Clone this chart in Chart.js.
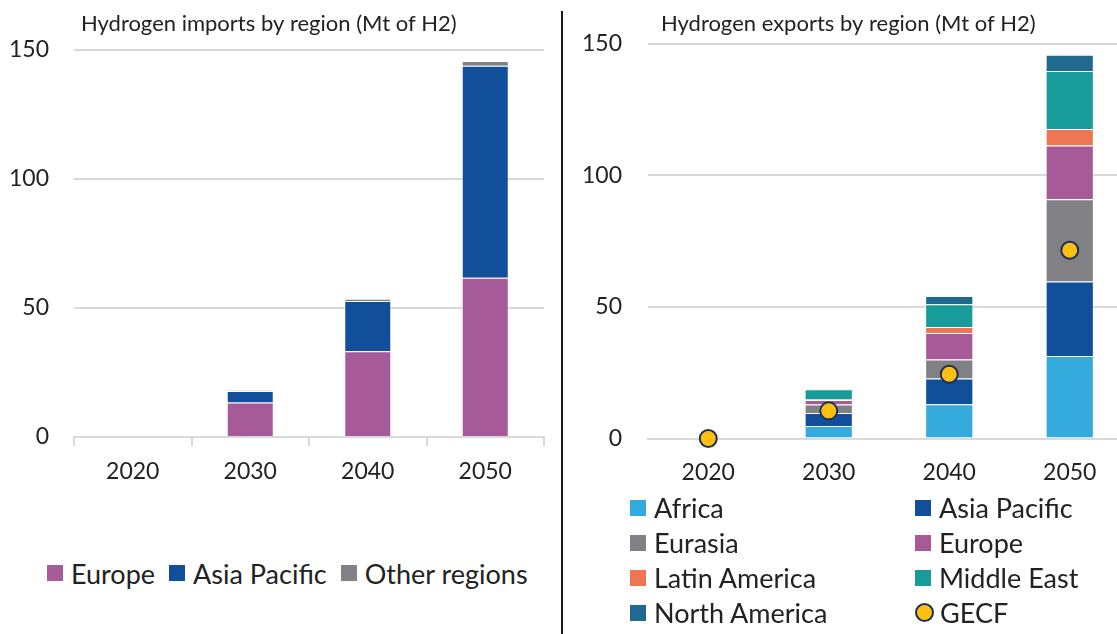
<!DOCTYPE html>
<html>
<head>
<meta charset="utf-8">
<title>Hydrogen trade by region</title>
<script src="https://cdn.jsdelivr.net/npm/chart.js@4.4.1/dist/chart.umd.min.js"></script>
<style>
  html, body { margin: 0; overflow: hidden; }
  body { width: 1117px; height: 634px; position: relative; background: #fff; font-family: Lato, sans-serif; color: #222; }
  .panel { position: absolute; top: 0; height: 500px; }
  #importsPanel { left: 0; width: 555px; }
  #exportsPanel { left: 563px; width: 590px; } /* runs a bit past the window edge on purpose */
  #divider { position: absolute; left: 561px; top: 11px; width: 2px; height: 623px; background: #1a1a1a; }
  .legend { position: absolute; font-size: 27px; line-height: 1; }
  .legend .item { display: flex; align-items: center; white-space: nowrap; }
  .legend .swatch { width: 16px; height: 16px; margin-right: 8px; flex: none; }
  .legend .dot { width: 15px; height: 15px; border-radius: 50%; border: 2px solid #1c2f5c; margin-right: 6px; flex: none; }
  #importsLegend { left: 47px; top: 558px; height: 30px; display: flex; gap: 14px; }
  #exportsLegend { left: 630px; top: 490px; display: grid; grid-template-columns: 285px auto; grid-auto-rows: 35px; }
</style>
</head>
<body>
<div class="panel" id="importsPanel"><canvas id="importsChart"></canvas></div>
<div id="divider"></div>
<div class="panel" id="exportsPanel"><canvas id="exportsChart"></canvas></div>
<div class="legend" id="importsLegend"></div>
<div class="legend" id="exportsLegend"></div>

<script>
const years = ['2020', '2030', '2040', '2050'];
const yTicks = [0, 50, 100, 150];

// imports, Mt of H2
const importEurope = [0, 13.4, 33.2, 61.7];
const importAsiaPacific = [0, 4.4, 19.5, 82.2];
const importOther = [0, 0.3, 0.9, 1.8];

// exports, Mt of H2
const exportAfrica = [0, 4.7, 13.0, 31.3];
const exportAsiaPacific = [0, 5.0, 9.8, 28.3];
const exportEurasia = [0, 3.2, 7.2, 31.3];
const exportEurope = [0, 1.7, 10.1, 20.4];
const exportLatinAmerica = [0, 0.2, 2.2, 6.2];
const exportMiddleEast = [0, 3.9, 8.7, 22.1];
const exportNorthAmerica = [0, 0.2, 3.1, 6.1];
const exportGECF = [0, 10.5, 24.4, 71.5];

const colors = {
    africa: '#35aadc',
    asiaPacific: '#124f9b',
    grey: '#808085',
    europe: '#a65b98',
    latinAmerica: '#ee7653',
    middleEast: '#189c9b',
    northAmerica: '#1f6a8e',
    gecf: '#fdc010',
    gecfBorder: '#1c2f5c'
};

const textColor = '#222';
const gridColor = '#d9d9d9';

// Panel heading drawn straight onto the canvas so it can sit where I want it
const panelTitle = {
    id: 'panelTitle',
    afterDraw(chart, args, opts) {
        const ctx = chart.ctx;
        ctx.save();
        ctx.font = '22px Lato';
        ctx.fillStyle = textColor;
        ctx.textBaseline = 'alphabetic';
        ctx.fillText(opts.text, opts.x, opts.y);
        ctx.restore();
    }
};

function bar(label, data, color) {
    return {
        label: label,
        data: data,
        backgroundColor: color,
        borderColor: 'rgba(255,255,255,0.45)',
        borderWidth: 1,
        barPercentage: 0.4,
        categoryPercentage: 1,
        order: 1
    };
}

// cfg holds the few numbers that differ between the two panels
function makeOptions(cfg) {
    return {
        responsive: true,
        maintainAspectRatio: false,
        animation: false,
        layout: { padding: { top: cfg.top, right: cfg.right, left: 0, bottom: 0 } },
        plugins: {
            legend: { display: false }, // legends are plain html below the charts
            tooltip: { enabled: false },
            panelTitle: cfg.title
        },
        scales: {
            x: {
                stacked: true,
                afterFit: (scale) => { scale.height = cfg.xHeight; },
                border: { display: true, color: gridColor, width: 2 },
                grid: {
                    display: cfg.xTicks,
                    drawTicks: cfg.xTicks,
                    drawOnChartArea: false, //only the little marks under the axis
                    offset: true,
                    tickLength: 9,
                    color: gridColor,
                    lineWidth: 2
                },
                ticks: { color: textColor, font: { family: 'Lato', size: 23 }, padding: cfg.xPad, maxRotation: 0 }
            },
            y: {
                stacked: true,
                min: yTicks[0],
                max: yTicks[yTicks.length - 1],
                afterFit: (scale) => { scale.width = cfg.yWidth; },
                afterBuildTicks: (scale) => { scale.ticks = yTicks.map(v => ({ value: v })); },
                border: { display: false },
                grid: { color: gridColor, lineWidth: 2, drawTicks: false },
                ticks: { color: textColor, font: { family: 'Lato', size: 23 }, padding: cfg.yPad }
            }
        }
    };
}

const importsChart = new Chart(document.getElementById('importsChart'), {
    type: 'bar',
    data: {
        labels: years,
        datasets: [
            bar('Europe', importEurope, colors.europe),
            bar('Asia Pacific', importAsiaPacific, colors.asiaPacific),
            bar('Other regions', importOther, colors.grey)
        ]
    },
    options: makeOptions({
        top: 50, right: 11, xHeight: 63, yWidth: 74, yPad: 25, xPad: 12, xTicks: true,
        title: { text: 'Hydrogen imports by region (Mt of H2)', x: 81, y: 31 }
    }),
    plugins: [panelTitle]
});

const exportsChart = new Chart(document.getElementById('exportsChart'), {
    type: 'bar',
    data: {
        labels: years,
        datasets: [
            bar('Africa', exportAfrica, colors.africa),
            bar('Asia Pacific', exportAsiaPacific, colors.asiaPacific),
            bar('Eurasia', exportEurasia, colors.grey),
            bar('Europe', exportEurope, colors.europe),
            bar('Latin America', exportLatinAmerica, colors.latinAmerica),
            bar('Middle East', exportMiddleEast, colors.middleEast),
            bar('North America', exportNorthAmerica, colors.northAmerica),
            {
                type: 'line',
                label: 'GECF',
                data: exportGECF,
                stack: 'gecf', // keep it out of the bar stack
                showLine: false,
                pointRadius: 8.5,
                pointBorderWidth: 2,
                pointBackgroundColor: colors.gecf,
                pointBorderColor: colors.gecfBorder,
                clip: false,
                order: 0 // drawn over the bars
            }
        ]
    },
    options: makeOptions({
        top: 43.5, right: 23, xHeight: 61.5, yWidth: 85, yPad: 26, xPad: 20, xTicks: false,
        title: { text: 'Hydrogen exports by region (Mt of H2)', x: 98, y: 31 }
    }),
    plugins: [panelTitle]
});

// html legend built from the chart's own datasets
function buildLegend(chart, holderId) {
    const holder = document.getElementById(holderId);
    chart.data.datasets.forEach(ds => {
        const item = document.createElement('div');
        item.className = 'item';
        const mark = document.createElement('span');
        if (ds.type === 'line') {
            mark.className = 'dot';
            mark.style.background = ds.pointBackgroundColor;
        } else {
            mark.className = 'swatch';
            mark.style.background = ds.backgroundColor;
        }
        const text = document.createElement('span');
        text.textContent = ds.label;
        item.appendChild(mark);
        item.appendChild(text);
        holder.appendChild(item);
    });
}

buildLegend(importsChart, 'importsLegend');
buildLegend(exportsChart, 'exportsLegend');
</script>
</body>
</html>
